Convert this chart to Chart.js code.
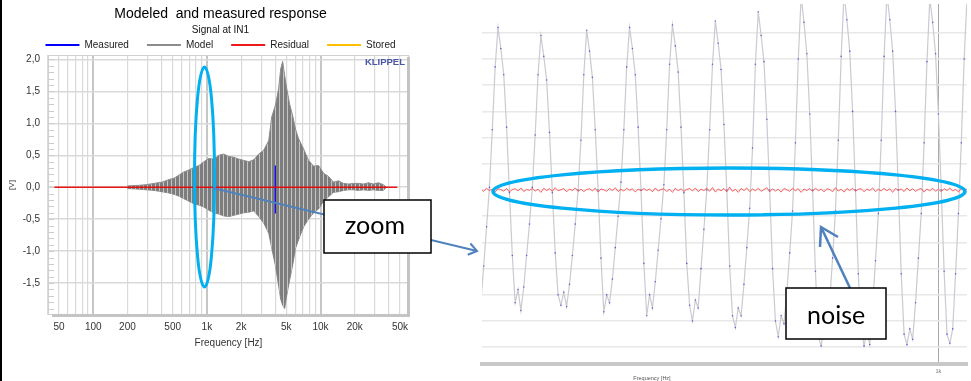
<!DOCTYPE html>
<html>
<head>
<meta charset="utf-8">
<script src="https://cdn.jsdelivr.net/npm/chart.js@4.4.1/dist/chart.umd.min.js"></script>
<style>
  html, body { margin: 0; padding: 0; background: #fff; }
  #page { position: relative; width: 971px; height: 381px; overflow: hidden; background: #fff; }
  #left { position: absolute; left: 0; top: 0; }
  #right { position: absolute; left: 478px; top: 0; }
  #edge { position: absolute; left: 0; top: 0; width: 2px; height: 381px; background: #000; }
  #notes { position: absolute; left: 0; top: 0; }
</style>
</head>
<body>
<div id="page">
  <canvas id="left" width="446" height="381"></canvas>
  <canvas id="right" width="493" height="381"></canvas>
  <div id="edge"></div>
  <svg id="notes" width="971" height="381">
    <ellipse cx="204.5" cy="177" rx="10" ry="110" fill="none" stroke="#00b0f0" stroke-width="3"/>
    <ellipse cx="729" cy="191.5" rx="236" ry="23.5" fill="none" stroke="#00b0f0" stroke-width="3.5"/>
    <line x1="213" y1="188" x2="477" y2="251" stroke="#4f81bd" stroke-width="2"/>
    <polyline points="470.4,243.5 477,251 467.7,254.7" fill="none" stroke="#4f81bd" stroke-width="2"/>
    <rect x="324" y="200" width="107" height="53" fill="#fff" stroke="#000" stroke-width="1.5"/>
    <text x="345" y="234" font-family="Lato, 'Open Sans', sans-serif" font-size="25" fill="#000">zoom</text>
    <line x1="850" y1="288" x2="821" y2="227" stroke="#4f81bd" stroke-width="2.5"/>
    <polyline points="820,247 821,227 838,237" fill="none" stroke="#4f81bd" stroke-width="2.5"/>
    <rect x="786" y="288" width="100" height="51" fill="#fff" stroke="#000" stroke-width="1.5"/>
    <text x="807" y="324" font-family="Lato, 'Open Sans', sans-serif" font-size="25" fill="#000">noise</text>
  </svg>
</div>
<script>
// ---------- left panel: signal at IN1 over frequency ----------
var freqGrid = [40, 50, 60, 70, 80, 90, 100, 200, 300, 400, 500, 600, 700, 800, 900,
  1000, 2000, 3000, 4000, 5000, 6000, 7000, 8000, 9000, 10000, 20000, 30000, 40000, 50000, 60000];
var freqTickValues = [50, 100, 200, 500, 1000, 2000, 5000, 10000, 20000, 50000];
var freqTickLabels = ['50', '100', '200', '500', '1k', '2k', '5k', '10k', '20k', '50k'];
var voltTicks = [-1.5, -1.0, -0.5, 0, 0.5, 1.0, 1.5, 2.0];

// envelope of the model signal (upper / lower peaks)
var envFreq = [199, 253, 292, 343, 403, 464, 513, 568, 628, 695, 769, 851, 941, 1041, 1152,
  1274, 1410, 1560, 1725, 1909, 2112, 2336, 2584, 2858, 3162, 3499, 3717, 4030, 4281, 4458,
  4642, 4833, 5032, 5348, 5682, 6037, 6412, 7095, 7848, 8682, 9605, 10620, 11750, 13000, 14390,
  15910, 17600, 19480, 21540, 23840, 26370, 29170, 32270, 35700, 37930];
var modelUpper = [0.02, 0.03, 0.04, 0.06, 0.08, 0.12, 0.14, 0.19, 0.24, 0.27, 0.31, 0.34, 0.40, 0.45, 0.44,
  0.50, 0.52, 0.48, 0.47, 0.44, 0.42, 0.40, 0.43, 0.52, 0.58, 0.73, 1.10, 1.30, 1.55, 1.85,
  1.97, 1.75, 1.55, 1.30, 1.12, 0.90, 0.76, 0.60, 0.42, 0.33, 0.34, 0.22, 0.17, 0.08, 0.10,
  0.06, 0.05, 0.06, 0.06, 0.05, 0.07, 0.05, 0.07, 0.04, 0.0];
var modelLower = [-0.02, -0.03, -0.04, -0.05, -0.07, -0.09, -0.11, -0.14, -0.18, -0.22, -0.26, -0.28, -0.31, -0.36, -0.40,
  -0.42, -0.45, -0.46, -0.44, -0.42, -0.40, -0.39, -0.37, -0.46, -0.56, -0.72, -0.95, -1.25, -1.55, -1.75,
  -1.85, -1.90, -1.70, -1.45, -1.22, -0.95, -0.82, -0.62, -0.50, -0.40, -0.34, -0.22, -0.15, -0.08, -0.07,
  -0.05, -0.04, -0.04, -0.05, -0.04, -0.05, -0.04, -0.05, -0.05, 0.0];
var measuredFreq = [4000, 4000];
var measuredVolt = [0.34, -0.41];
var residualFreq = [45.5, 47300];
var residualVolt = [0, 0];

// ---------- right panel: zoom around 1 kHz ----------
var zoomStartHz = 920;
var zoomStepHz = 0.5;
var zoomSignal = [
  -4.3, -2.9, -1.4, 0.1, 2.3, 4.7,
  6.2, 5.4, 4.4, 2.4, -0.1, -2.5, -4.3, -3.8, -4.6, -3.7, -2.5, -1.3, 0.1, 2.1, 4.4,
  5.9, 5.1, 4.2, 2.2, -0.1, -2.4, -4.0, -4.4, -3.9, -4.45, -3.6, -2.5, -1.3, 0.0, 1.9, 4.4,
  6.1, 5.3, 4.3, 2.3, 0.0, -2.6, -4.65, -4.0, -4.3, -3.4, -2.2, -1.0, 0.3, 2.3, 4.7,
  6.2, 5.4, 4.4, 2.4, 0.0, -2.8, -4.8, -4.0, -4.5, -3.5, -2.3, -1.1, 0.2, 2.3, 4.8,
  6.3, 5.5, 4.5, 2.4, -0.1, -2.8, -4.4, -5.0, -4.2, -4.5, -3.0, -1.5, 0.0, 2.3, 4.8,
  6.45, 5.6, 4.6, 2.5, 0.0, -2.9, -4.8, -5.25, -4.5, -4.8, -3.6, -2.2, -0.7, 1.6, 4.8,
  6.8, 5.9, 4.9, 2.7, 0.0, -3.0, -5.0, -5.6, -4.8, -5.1, -3.9, -2.4, -0.8, 1.8, 5.0,
  7.4, 6.4, 5.2, 2.9, 0.0, -3.1, -5.6, -5.95, -5.3, -5.6, -4.2, -2.6, -0.8, 1.9, 5.1,
  7.5, 6.5, 5.3, 3.0, 0.0, -3.2, -5.3, -5.95, -5.4, -5.9, -4.4, -2.7, -0.9, 1.9, 5.1,
  7.5, 6.5, 5.3, 3.0, 0.0, -3.2, -5.5, -5.9, -5.3, -5.7, -4.3, -2.6, -0.9, 1.8, 4.9,
  7.3, 6.4, 5.2, 2.9, 0.0, -3.1, -5.5, -5.85, -5.3, -3.2, -0.9, 1.8, 5.0, 7.3
];
var zoomNoise = [
  0.03, -0.05, 0.07, -0.02, 0.04, -0.08, 0.05, 0.01, -0.04, 0.06, -0.07, 0.02, 0.05, -0.03, 0.08, -0.06, 0.02, -0.01, 0.06,
  -0.04, 0.03, -0.09, 0.07, -0.02, 0.05, -0.05, 0.09, -0.03, 0.01, 0.06, -0.07, 0.04, -0.02, 0.08, -0.05, 0.03, -0.06, 0.02,
  0.05, -0.03, 0.07, -0.08, 0.04, 0.01, -0.05, 0.06, -0.02, 0.09, -0.06, 0.03, -0.04, 0.07, -0.01, 0.05, -0.08, 0.04, -0.03,
  0.06, -0.02, 0.04, -0.07, 0.08, -0.04, 0.02, 0.05, -0.06, 0.03, -0.09, 0.07, -0.03, 0.05, -0.05, 0.02, 0.06, -0.04, 0.08,
  -0.06, 0.03, -0.02, 0.07, -0.05, 0.10, -0.08, 0.04, -0.03, 0.06, -0.07, 0.11, -0.05, 0.03, -0.09, 0.06, -0.02, 0.08, -0.06,
  0.04, -0.03, 0.07, -0.05, 0.02, 0.09, -0.07, 0.05, -0.04, 0.03, -0.08, 0.06, 0.01, -0.05, 0.07, -0.03, 0.05, -0.09, 0.04,
  -0.02, 0.06, -0.05, 0.08, -0.03, 0.04, -0.07, 0.05, 0.02, -0.06, 0.09, -0.04, 0.03, -0.08, 0.06, -0.02, 0.07, -0.05, 0.03,
  0.05, -0.07, 0.04, -0.02, 0.08, -0.06, 0.03, -0.04, 0.07, -0.03, 0.05, -0.09, 0.06, -0.01, 0.04, -0.06, 0.08, -0.03, 0.05,
  -0.05, 0.02, 0.06, -0.08, 0.04, -0.03, 0.07, -0.05, 0.03, -0.06, 0.05, -0.02, 0.08, -0.04, 0.02, -0.07, 0.05, -0.03, 0.04
];
var zoomGridValues = [-6, -5, -4, -3, -2, -1, 0, 1, 2, 3, 4, 5, 6];
var zoomTickValues = [1000];
var zoomTickLabels = ['1k'];

Chart.defaults.font.family = "'Liberation Sans', Arial, sans-serif";

function pairs(xs, ys) {
  return xs.map(function (x, i) { return { x: x, y: ys[i] }; });
}
function sampled(values) {
  return values.map(function (v, i) { return { x: zoomStartHz + i * zoomStepHz, y: v }; });
}

/* ======= striped fill for the dense model signal ======= */
var stripe = document.createElement('canvas');
stripe.width = 4; stripe.height = 4;
var sctx = stripe.getContext('2d');
sctx.fillStyle = '#7d7d7d'; sctx.fillRect(0, 0, 4, 4);
sctx.fillStyle = '#c4c4c4'; sctx.fillRect(3, 0, 1, 4);
var leftCanvas = document.getElementById('left');
var stripePattern = leftCanvas.getContext('2d').createPattern(stripe, 'repeat');

/* ======= plot frame, minor ticks and logo ======= */
var leftDecor = {
  id: 'leftDecor',
  afterDraw: function (chart) {
    var ctx = chart.ctx, a = chart.chartArea, y = chart.scales.y;
    ctx.save();
    ctx.strokeStyle = '#cdcdcd'; ctx.lineWidth = 1;
    for (var v = -1.9; v < 2.05; v += 0.1) {
      var py = Math.round(y.getPixelForValue(v)) + 0.5;
      ctx.beginPath(); ctx.moveTo(a.left, py); ctx.lineTo(a.left + 6, py); ctx.stroke();
    }
    ctx.strokeStyle = '#d0d0d0'; ctx.lineWidth = 1;
    ctx.strokeRect(a.left + 0.5, a.top + 0.5, a.right - a.left - 1, a.bottom - a.top - 1);
    ctx.strokeStyle = '#c4c4c4'; ctx.lineWidth = 3;
    ctx.beginPath();
    ctx.moveTo(a.right - 0.5, a.top + 2); ctx.lineTo(a.right - 0.5, a.bottom + 0.5);
    ctx.lineTo(a.left + 4, a.bottom + 0.5);
    ctx.stroke();
    ctx.fillStyle = '#4a57a6';
    ctx.font = "bold 9.5px 'Liberation Sans', Arial, sans-serif";
    ctx.textAlign = 'right'; ctx.textBaseline = 'middle';
    ctx.fillText('KLIPPEL', a.right - 4, a.top + 7);
    ctx.restore();
  }
};

var leftChart = new Chart(leftCanvas, {
  type: 'line',
  data: {
    datasets: [
      { label: 'Measured', data: pairs(measuredFreq, measuredVolt), borderColor: '#0000ff', backgroundColor: '#0000ff', borderWidth: 1.2, pointRadius: 0, order: 1 },
      { label: 'Model', data: pairs(envFreq, modelUpper), borderColor: '#8c8c8c', backgroundColor: stripePattern, borderWidth: 1, pointRadius: 0, fill: '+1', order: 2 },
      { label: 'Model lower', data: pairs(envFreq, modelLower), borderColor: '#8c8c8c', borderWidth: 1, pointRadius: 0, order: 3 },
      { label: 'Residual', data: pairs(residualFreq, residualVolt), borderColor: 'rgba(235,0,0,0.9)', backgroundColor: '#ff0000', borderWidth: 1.5, pointRadius: 0, order: 0 },
      { label: 'Stored', data: [], borderColor: '#ffc000', backgroundColor: '#ffc000', order: 4 }
    ]
  },
  options: {
    responsive: false,
    animation: false,
    layout: { padding: { left: 0, right: 5, top: 0, bottom: 26 } },
    plugins: {
      title: { display: true, text: 'Modeled  and measured response', color: '#000', font: { size: 14, weight: 'normal', lineHeight: 1 }, padding: { top: 7, bottom: 1 } },
      subtitle: { display: true, text: 'Signal at IN1', color: '#111', font: { size: 10, lineHeight: 1 }, padding: { top: 3.5, bottom: -13.5 } },
      legend: {
        display: true,
        maxHeight: 33,
        labels: {
          boxWidth: 34, boxHeight: 2, padding: 18, color: '#222', font: { size: 10 },
          generateLabels: function (chart) {
            return Chart.defaults.plugins.legend.labels.generateLabels(chart)
              .filter(function (l) { return l.text !== 'Model lower'; })
              .sort(function (a, b) { return a.datasetIndex - b.datasetIndex; })
              .map(function (l) { l.fillStyle = l.strokeStyle; l.lineWidth = 0; return l; });
          }
        }
      },
      tooltip: { enabled: false }
    },
    scales: {
      x: {
        type: 'logarithmic', min: 40, max: 60000,
        afterBuildTicks: function (s) { s.ticks = freqGrid.map(function (v) { return { value: v }; }); },
        afterFit: function (s) { s.height = 40; },
        ticks: {
          autoSkip: false, maxRotation: 0, padding: 6, color: '#333', font: { size: 10 },
          callback: function (v) { var i = freqTickValues.indexOf(v); return i < 0 ? '' : freqTickLabels[i]; }
        },
        grid: {
          drawTicks: false,
          color: function (c) { var v = c.tick && c.tick.value; return (v === 100 || v === 1000 || v === 10000) ? '#c6c6c6' : '#d9d9d9'; },
          lineWidth: function (c) { var v = c.tick && c.tick.value; return (v === 100 || v === 1000 || v === 10000) ? 2 : 1.2; }
        },
        border: { display: false },
        title: { display: true, text: 'Frequency [Hz]', color: '#333', font: { size: 10 }, padding: { top: 0, bottom: 6 } }
      },
      y: {
        min: -2, max: 2.07,
        afterBuildTicks: function (s) { s.ticks = voltTicks.map(function (v) { return { value: v }; }); },
        afterFit: function (s) { s.width = 48; },
        ticks: { padding: 8, color: '#333', font: { size: 10 }, callback: function (v) { return v.toFixed(1).replace('.', ','); } },
        grid: { drawTicks: false, color: '#d9d9d9', lineWidth: 1.5 },
        border: { display: false },
        title: { display: true, text: '[V]', color: '#333', font: { size: 8 }, padding: { top: 7, bottom: 0 } }
      },
      // empty strip on the right so the title block centres like the original
      yPad: {
        position: 'right', min: -2, max: 2.07,
        afterFit: function (s) { s.width = 32; },
        ticks: { display: false },
        grid: { display: false, drawTicks: false },
        border: { display: false }
      }
    }
  },
  plugins: [leftDecor]
});

/* ======= caption under the zoomed view ======= */
var rightCaption = {
  id: 'rightCaption',
  afterDraw: function (chart) {
    var ctx = chart.ctx, a = chart.chartArea;
    ctx.save();
    ctx.fillStyle = '#555';
    ctx.font = "5.5px 'Liberation Sans', Arial, sans-serif";
    ctx.textAlign = 'center'; ctx.textBaseline = 'middle';
    ctx.fillText('Frequency [Hz]', a.left + 170, 378);
    ctx.restore();
  }
};

var rightChart = new Chart(document.getElementById('right'), {
  type: 'line',
  data: {
    datasets: [
      { label: 'Residual', data: sampled(zoomNoise), borderColor: 'rgba(255,40,40,0.7)', borderWidth: 1, pointRadius: 0, order: 0 },
      { label: 'Signal', data: sampled(zoomSignal), borderColor: '#cacad2', borderWidth: 1.2, pointRadius: 0.8, pointBackgroundColor: 'rgba(50,50,220,0.7)', pointBorderWidth: 0, order: 1 }
    ]
  },
  options: {
    responsive: false,
    animation: false,
    layout: { padding: 0 },
    plugins: { legend: { display: false }, tooltip: { enabled: false } },
    scales: {
      x: {
        type: 'linear', min: 920.2, max: 1005,
        afterBuildTicks: function (s) { s.ticks = zoomTickValues.map(function (v) { return { value: v }; }); },
        afterFit: function (s) { s.height = 17; },
        ticks: { padding: 4, color: '#777', font: { size: 5.5 }, callback: function (v) { return zoomTickLabels[zoomTickValues.indexOf(v)]; } },
        grid: { drawTicks: false, color: '#a8a8a8', lineWidth: 1 },
        border: { display: true, color: '#c8c8c8', width: 4 }
      },
      y: {
        min: -6.64, max: 7.1,
        afterBuildTicks: function (s) { s.ticks = zoomGridValues.map(function (v) { return { value: v }; }); },
        afterFit: function (s) { s.width = 0; },
        ticks: { display: false },
        grid: { drawTicks: false, color: '#e8e8e8', lineWidth: 1.5 },
        border: { display: false }
      }
    }
  },
  plugins: [rightCaption]
});
</script>
</body>
</html>
